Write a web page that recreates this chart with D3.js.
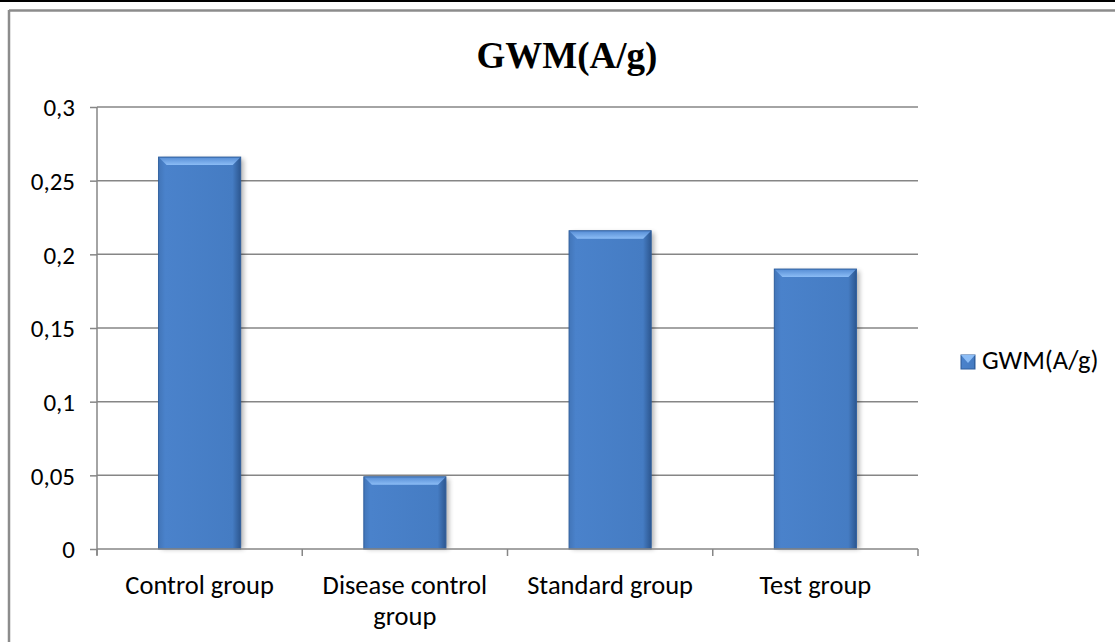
<!DOCTYPE html>
<html><head><meta charset="utf-8">
<script src="https://cdn.jsdelivr.net/npm/d3@7"></script>
<style>html,body{margin:0;padding:0;background:#fff;}svg{display:block;}</style>
</head><body>
<svg id="c" width="1115" height="642"></svg>
<script>
const categories = ["Control group", "Disease control group", "Standard group", "Test group"];
const values = [0.266, 0.049, 0.216, 0.190];
const yTicks = [0, 0.05, 0.1, 0.15, 0.2, 0.25, 0.3];
const yTickLabels = ["0", "0,05", "0,1", "0,15", "0,2", "0,25", "0,3"];
const seriesName = "GWM(A/g)";
const title = "GWM(A/g)";

const FONT = "Carlito, 'Open Sans', 'Liberation Sans', sans-serif";
const svg = d3.select("#c");
const M = {left: 97, right: 918, top: 107, bottom: 549};
const x = d3.scaleBand().domain(categories).range([M.left, M.right]).paddingInner(0.6).paddingOuter(0.3);
const xb = d3.scaleBand().domain(categories).range([M.left, M.right]);
const y = d3.scaleLinear().domain([0, 0.3]).range([M.bottom, M.top]);

// frame
svg.append("rect").attr("x",0).attr("y",0).attr("width",1115).attr("height",2).attr("fill","#000");
svg.append("line").attr("x1",9).attr("x2",1115).attr("y1",10.5).attr("y2",10.5).attr("stroke","#8c8c8c").attr("stroke-width",2.5);
svg.append("line").attr("x1",9).attr("x2",9).attr("y1",10).attr("y2",642).attr("stroke","#8c8c8c").attr("stroke-width",2.5);

const defs = svg.append("defs");
const g1 = defs.append("linearGradient").attr("id","barg").attr("x1","0").attr("x2","1").attr("y1","0").attr("y2","0");
g1.append("stop").attr("offset","0").attr("stop-color","#4275b8");
g1.append("stop").attr("offset","0.08").attr("stop-color","#4a82cb");
g1.append("stop").attr("offset","0.9").attr("stop-color","#457cc3");
g1.append("stop").attr("offset","0.97").attr("stop-color","#34629f");
g1.append("stop").attr("offset","1").attr("stop-color","#2c5690");
const g2 = defs.append("linearGradient").attr("id","bevt").attr("x1","0").attr("x2","0").attr("y1","0").attr("y2","1");
g2.append("stop").attr("offset","0").attr("stop-color","#558cd4");
g2.append("stop").attr("offset","1").attr("stop-color","#8cbdf6");
const f = defs.append("filter").attr("id","sh").attr("x","-20%").attr("y","-20%").attr("width","150%").attr("height","140%");
f.append("feGaussianBlur").attr("stdDeviation",2.5);

// gridlines
svg.append("g").selectAll("line").data(yTicks.slice(1)).join("line")
  .attr("x1",M.left).attr("x2",M.right).attr("y1",d=>y(d)).attr("y2",d=>y(d))
  .attr("stroke","#868686").attr("stroke-width",1.5);

// axes
const yAxis = d3.axisLeft(y).tickValues(yTicks).tickFormat((d,i)=>yTickLabels[i]).tickSize(7).tickPadding(15);
const ya = svg.append("g").attr("transform",`translate(${M.left},0)`).call(yAxis);
ya.select(".domain").attr("stroke","#868686").attr("stroke-width",1.5).attr("d",`M0,${M.top}V${M.bottom+6}`);
ya.selectAll(".tick line").attr("stroke","#868686").attr("stroke-width",1.5);
ya.selectAll(".tick text").attr("font-family",FONT).attr("font-size",25).attr("fill","#000").attr("dy","0.35em");

// bars
const bars = svg.append("g");
categories.forEach((c,i)=>{
  const bx = x(c), bw = x.bandwidth(), by = y(values[i]), bh = y(0)-y(values[i]);
  bars.append("rect").attr("x",bx+3).attr("y",by+2).attr("width",bw).attr("height",bh-2).attr("fill","#000").attr("opacity",0.3).attr("filter","url(#sh)");
  bars.append("rect").attr("x",bx).attr("y",by).attr("width",bw).attr("height",bh).attr("fill","url(#barg)");
  const bv = Math.min(8, bh/2);
  bars.append("path").attr("d",`M${bx},${by}H${bx+bw}L${bx+bw-bv},${by+bv}H${bx+bv}Z`).attr("fill","url(#bevt)");
  bars.append("rect").attr("x",bx).attr("y",by).attr("width",bw).attr("height",bh).attr("fill","none").attr("stroke","#2f5f9e").attr("stroke-width",1);
});

// x axis
const xa = svg.append("g");
xa.append("line").attr("x1",M.left).attr("x2",M.right).attr("y1",M.bottom).attr("y2",M.bottom).attr("stroke","#868686").attr("stroke-width",1.5);
const bounds = categories.map(c=>xb(c)).concat([M.right]);
xa.selectAll("line.t").data(bounds).join("line").attr("class","t")
  .attr("x1",d=>d).attr("x2",d=>d).attr("y1",M.bottom).attr("y2",M.bottom+7).attr("stroke","#868686").attr("stroke-width",1.5);
const labelLines = {"Disease control group":["Disease control","group"]};
categories.forEach(c=>{
  const lines = labelLines[c] || [c];
  const t = xa.append("text").attr("x",xb(c)+xb.bandwidth()/2).attr("y",594).attr("text-anchor","middle")
    .attr("font-family",FONT).attr("font-size",26.5).attr("fill","#000");
  lines.forEach((l,j)=>t.append("tspan").attr("x",xb(c)+xb.bandwidth()/2).attr("dy",j?31:0).text(l));
});

// title
svg.append("text").attr("x",567).attr("y",68).attr("text-anchor","middle")
  .attr("font-family","'Liberation Serif','Times New Roman',serif").attr("font-weight","bold").attr("font-size",37).text(title);

// legend
const lg = svg.append("g");
lg.append("rect").attr("x",961).attr("y",355).attr("width",14).attr("height",14).attr("fill","url(#barg)").attr("stroke","#2f5f9e");
lg.append("path").attr("d","M961,355H975L968,363Z").attr("fill","#8cbdf6");
lg.append("text").attr("x",982).attr("y",369).attr("font-family",FONT).attr("font-size",26.5).text(seriesName);
</script>
</body></html>
